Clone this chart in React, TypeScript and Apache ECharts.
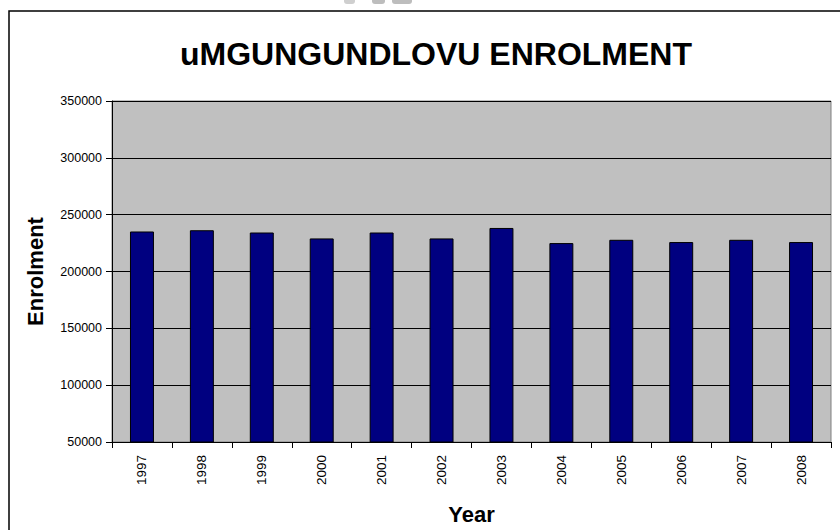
import React, { useEffect, useRef } from "react";
import * as echarts from "echarts";

const years = ["1997", "1998", "1999", "2000", "2001", "2002", "2003", "2004", "2005", "2006", "2007", "2008"];
const enrolment = [235200, 236300, 234300, 229100, 234300, 229100, 238300, 225000, 227900, 225900, 227900, 225900];
const yMin = 50000;
const yMax = 350000;
const yStep = 50000;

const FONT = "'Liberation Sans', Arial, sans-serif";

export default function App() {
  const ref = useRef<HTMLDivElement>(null);
  useEffect(() => {
    if (!ref.current) return;
    const chart = echarts.init(ref.current, null, { renderer: "svg" });
    chart.setOption({
      animation: false,
      backgroundColor: "#ffffff",
      textStyle: { fontFamily: FONT },
      title: {
        text: "uMGUNGUNDLOVU ENROLMENT",
        left: 431,
        textAlign: "center",
        top: 33,
        textStyle: { fontFamily: FONT, fontSize: 32, fontWeight: "bold", color: "#000" },
      },
      graphic: [
        {
          type: "polyline",
          shape: { points: [[9, 540], [9, 11], [841, 11]] },
          style: { fill: "none", stroke: "#000", lineWidth: 1.5 },
          silent: true,
        },
        {
          type: "rect",
          shape: { x: 344, y: -4, width: 11, height: 8, r: 3 },
          style: { fill: "#cfcfcf" },
          silent: true,
        },
        {
          type: "rect",
          shape: { x: 372, y: -4, width: 13, height: 8, r: 3 },
          style: { fill: "#bdbdbd" },
          silent: true,
        },
        {
          type: "rect",
          shape: { x: 392, y: -4, width: 20, height: 8, r: 3 },
          style: { fill: "#bdbdbd" },
          silent: true,
        },
      ],
      grid: {
        left: 112,
        right: 9,
        top: 101,
        bottom: 88,
        show: true,
        backgroundColor: "#c0c0c0",
        borderColor: "#808080",
        borderWidth: 1,
      },
      xAxis: {
        type: "category",
        data: years,
        name: "Year",
        nameLocation: "middle",
        nameGap: 61,
        nameTextStyle: { fontFamily: FONT, fontSize: 22, fontWeight: "bold", color: "#000" },
        axisLine: { lineStyle: { color: "#000", width: 1 } },
        axisTick: { show: true, alignWithLabel: false, length: 6, lineStyle: { color: "#000" } },
        axisLabel: { rotate: 90, margin: 13, fontFamily: FONT, fontSize: 13.5, color: "#000" },
        splitLine: { show: false },
      },
      yAxis: {
        type: "value",
        min: yMin,
        max: yMax,
        interval: yStep,
        name: "Enrolment",
        nameLocation: "middle",
        nameGap: 66,
        nameTextStyle: { fontFamily: FONT, fontSize: 22, fontWeight: "bold", color: "#000" },
        axisLine: { show: true, lineStyle: { color: "#000", width: 1 } },
        axisTick: { show: true, length: 6, lineStyle: { color: "#000" } },
        axisLabel: {
          margin: 10,
          fontFamily: FONT,
          fontSize: 12.5,
          color: "#000",
          formatter: (v: number) => String(v),
        },
        splitLine: { show: true, lineStyle: { color: "#000", width: 1 } },
      },
      series: [
        {
          type: "bar",
          data: enrolment,
          barWidth: "40%",
          itemStyle: { color: "#000080", borderColor: "#000", borderWidth: 1 },
        },
      ],
    });
    return () => chart.dispose();
  }, []);
  return (
    <div
      ref={ref}
      style={{ position: "fixed", left: 0, top: 0, width: 840, height: 530 }}
    />
  );
}
